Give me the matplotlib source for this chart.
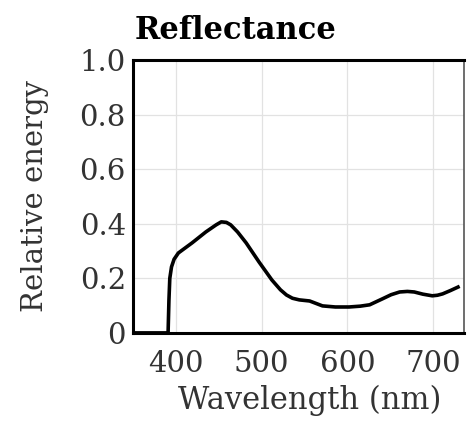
import matplotlib
matplotlib.use('Agg')
from matplotlib import pyplot as plt

# reflectance curve
wavelength = [350, 391, 392, 393, 395, 398, 403, 419, 435, 447, 453, 459, 464, 472, 482, 497, 512, 522, 529, 536, 544, 556, 571, 586, 602, 615, 626, 641, 651, 661, 670, 678, 688, 699, 705, 711, 720, 729]
energy = [0.0, 0.0, 0.12, 0.2, 0.242, 0.27, 0.293, 0.33, 0.37, 0.396, 0.407, 0.405, 0.396, 0.37, 0.33, 0.26, 0.194, 0.158, 0.139, 0.127, 0.121, 0.117, 0.099, 0.095, 0.095, 0.098, 0.103, 0.125, 0.14, 0.15, 0.152, 0.15, 0.142, 0.136, 0.138, 0.143, 0.155, 0.168]

x_ticks = [400, 500, 600, 700]
y_ticks = [0, 0.2, 0.4, 0.6, 0.8, 1.0]
y_tick_labels = ['0', '0.2', '0.4', '0.6', '0.8', '1.0']

plt.rcParams['font.family'] = ['DejaVu Serif']
text_color = '#333333'

fig = plt.figure(figsize=(4.73, 4.29), dpi=100)
ax = fig.add_axes([0.281, 0.224, 0.700, 0.636])

ax.plot(wavelength, energy, color='black', linewidth=2.6, solid_joinstyle='round')
ax.set_xlim(350, 736)
ax.set_ylim(0, 1.0)
ax.set_xticks(x_ticks)
ax.set_yticks(y_ticks)
ax.set_yticklabels(y_tick_labels)
ax.tick_params(length=0, labelsize=21, colors=text_color)
ax.tick_params(axis='x', pad=12)
ax.tick_params(axis='y', pad=5)
ax.grid(True, color='#e2e2e2', linewidth=0.9)

for side in ['left', 'bottom', 'top']:
    ax.spines[side].set_linewidth(2.2)
ax.spines['right'].set_linewidth(1.2)
ax.spines['right'].set_color('#555555')

ax.set_xlabel('Wavelength (nm)', fontsize=22, color=text_color)
ax.set_ylabel('Relative energy', fontsize=21, color=text_color)
ax.xaxis.set_label_coords(0.535, -0.19)
ax.yaxis.set_label_coords(-0.254, 0.5)
fig.text(0.285, 0.93, 'Reflectance', fontsize=22, fontweight='bold', ha='left', va='center')

plt.savefig('out.png', dpi=100)
